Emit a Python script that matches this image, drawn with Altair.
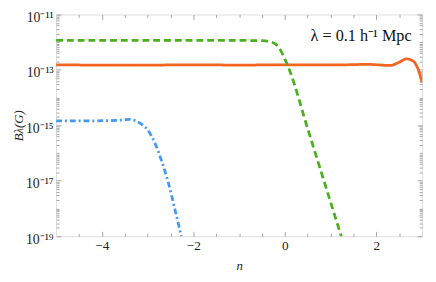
import altair as alt
import pandas as pd

# ---- data ----
orange_n = [-5, -4, -3, -2, -1, 0, 1, 1.5, 1.8, 2.05, 2.3, 2.5, 2.66, 2.8, 2.9, 3.0]
orange_b = [1.52e-13, 1.50e-13, 1.50e-13, 1.52e-13, 1.50e-13, 1.52e-13, 1.52e-13, 1.55e-13,
            1.6e-13, 1.52e-13, 1.45e-13, 1.9e-13, 2.5e-13, 2.1e-13, 1.2e-13, 3.5e-14]

green_n = [-5, -4, -3, -2, -1, -0.5, -0.35, -0.2, -0.1, 0.0, 0.1, 0.5, 1.0, 1.4]
green_b = [1.17e-12, 1.17e-12, 1.17e-12, 1.17e-12, 1.16e-12, 1.13e-12, 1.06e-12, 8.5e-13,
           5.3e-13, 2.5e-13, 1.0e-13, 7.5e-16, 1.7e-18, 1.3e-20]

blue_n = [-5, -4.5, -4, -3.7, -3.5, -3.4, -3.3, -3.2, -3.1, -3.0, -2.85, -2.7, -2.55, -2.4, -2.3, -2.15]
blue_b = [1.45e-15, 1.45e-15, 1.47e-15, 1.5e-15, 1.6e-15, 1.65e-15, 1.55e-15, 1.3e-15,
          1.0e-15, 7.0e-16, 2.5e-16, 5.6e-17, 8.9e-18, 8.9e-19, 1.8e-19, 1.6e-20]

series_names = ["orange", "green", "blue"]
series_colors = ["#F26522", "#4CAF1E", "#4499EE"]
series_dash = [[1, 0], [7, 4], [6, 3, 2, 3]]

x_major = [-4, -2, 0, 2]
x_minor = [-4.5, -3.5, -3, -2.5, -1.5, -1, -0.5, 0.5, 1, 1.5, 2.5]
y_major = [1e-19, 1e-17, 1e-15, 1e-13, 1e-11]
y_major_labels = ["10⁻¹⁹", "10⁻¹⁷", "10⁻¹⁵", "10⁻¹³", "10⁻¹¹"]
y_minor = [m * 10.0 ** e for e in range(-19, -11) for m in range(2, 11) if m * 10.0 ** e < 1.05e-11]
y_minor = [v for v in y_minor if all(abs(v / t - 1) > 1e-6 for t in y_major)]

annot_n = [2.77]
annot_b = [1.6e-12]
annot_text = ["λ = 0.1 h⁻¹ Mpc"]

FRAME = "#a3a3a3"
FONT = "Liberation Serif"

rows = []
for name, ns, bs in zip(series_names, [orange_n, green_n, blue_n], [orange_b, green_b, blue_b]):
    for n, b in zip(ns, bs):
        rows.append({"series": name, "n": n, "B": b})
df = pd.DataFrame(rows)

x_scale = alt.Scale(domain=[-5, 3], nice=False, zero=False)
y_scale = alt.Scale(type="log", domain=[1e-19, 1e-11], nice=False)

label_expr = " : ".join(
    [f"abs(log(datum.value)/LN10 - ({e})) < 0.01 ? '{lab}'" for e, lab in
     zip([-19, -17, -15, -13, -11], y_major_labels)]) + " : ''"

tick_common = dict(grid=False, domain=False, tickColor=FRAME, tickWidth=1, title=None,
                   labelOverlap=False, labelFlush=False)

def ax(orient, values, size, labels=False, **kw):
    d = dict(tick_common)
    d.update(kw)
    return alt.Axis(orient=orient, values=values, tickSize=size, offset=-size,
                    labels=labels, **d)

base = alt.Chart(df)

lines = base.mark_line(interpolate="monotone", clip=True, strokeWidth=2.8).encode(
    x=alt.X("n:Q", scale=x_scale,
            axis=ax("bottom", x_major, 5, labels=True, format="d", labelFont=FONT,
                    labelFontSize=13.5, labelColor="#222", labelPadding=3,
                    title="n", titleFont=FONT, titleFontSize=13, titleFontStyle="italic",
                    titleFontWeight="normal", titleColor="#222", titlePadding=7)),
    y=alt.Y("B:Q", scale=y_scale,
            axis=ax("left", y_major, 5, labels=True, labelExpr=label_expr, labelFont=FONT,
                    labelFontSize=14, labelColor="#222", labelPadding=3, labelOffset=3,
                    title="Bλ(G)", titleFont=FONT, titleFontSize=13, titleFontStyle="italic",
                    titleFontWeight="normal", titleColor="#222", titlePadding=0)),
    color=alt.Color("series:N", scale=alt.Scale(domain=series_names, range=series_colors), legend=None),
    strokeDash=alt.StrokeDash("series:N", scale=alt.Scale(domain=series_names, range=series_dash), legend=None),
    detail="series:N",
)

def tick_layer(xaxis, yaxis):
    return base.mark_point(opacity=0).encode(
        x=alt.X("n:Q", scale=x_scale, axis=xaxis),
        y=alt.Y("B:Q", scale=y_scale, axis=yaxis),
    )

l2 = tick_layer(ax("top", x_major, 5), ax("right", y_major, 5))
l3 = tick_layer(ax("bottom", x_minor, 3), ax("left", y_minor, 3))
l4 = tick_layer(ax("top", x_minor, 3), ax("right", y_minor, 3))

annot = alt.Chart(pd.DataFrame({"n": annot_n, "B": annot_b, "t": annot_text})).mark_text(
    align="right", baseline="middle", font=FONT, fontSize=16.5, color="#111"
).encode(
    x=alt.X("n:Q", scale=x_scale, axis=None),
    y=alt.Y("B:Q", scale=y_scale, axis=None),
    text="t:N",
)

chart = alt.layer(lines, l2, l3, l4, annot).resolve_axis(
    x="independent", y="independent"
).properties(
    width=373, height=226,
    autosize=alt.AutoSizeParams(type="none"),
    padding={"left": 49, "top": 4, "right": 6, "bottom": 44},
).configure_view(stroke=FRAME, strokeWidth=1).configure(background="white")

chart.save("out.html", embed_options={"renderer": "svg", "actions": False})
